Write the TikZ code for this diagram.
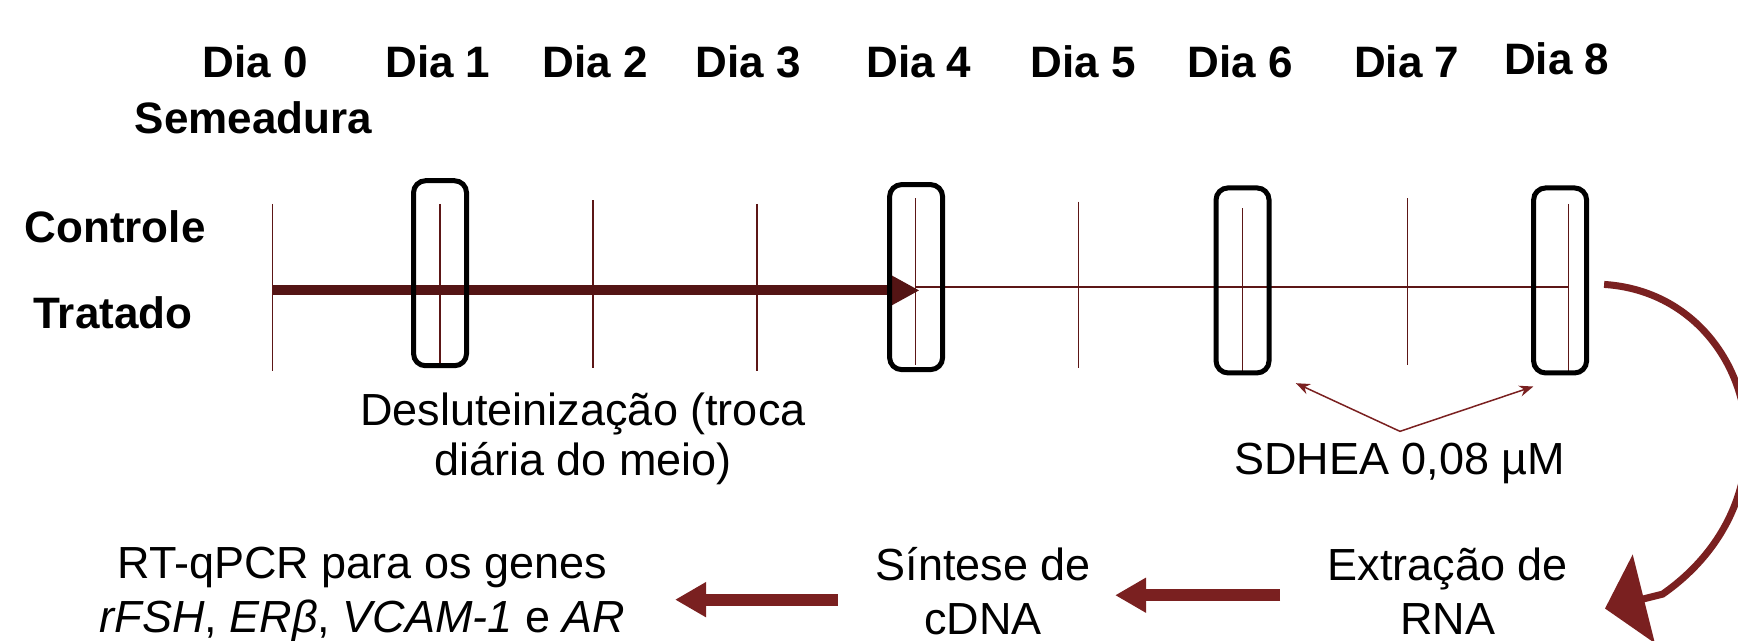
\documentclass[tikz,border=0pt]{standalone}
\usepackage{fontspec}
\setmainfont{Liberation Sans}
\usetikzlibrary{arrows.meta}
\definecolor{tlred}{RGB}{84,20,20}
\definecolor{ticked}{RGB}{92,22,22}
\definecolor{flowred}{RGB}{122,32,32}
\begin{document}
\begin{tikzpicture}[x=1.1084pt,y=-1.1084pt,
  daylabel/.style={font=\fontsize{44}{50}\selectfont\bfseries, inner sep=0pt, anchor=base},
  grouplabel/.style={font=\fontsize{44}{50}\selectfont\bfseries, inner sep=0pt, anchor=base west},
  note/.style={font=\fontsize{45}{54}\selectfont, inner sep=0pt, align=center, anchor=base},
  daytick/.style={draw=ticked, line width=1.5pt},
  window/.style={draw=black, line width=5pt, rounded corners=12pt, minimum width=53pt, minimum height=185pt, inner sep=0pt},
  treatline/.style={draw=tlred, line width=10pt, -{Triangle[length=30pt,width=30pt]}},
  ctrlline/.style={draw=ticked, line width=2pt},
  doseline/.style={draw=flowred, line width=1.5pt, {Stealth[length=14pt,width=11pt]}-{Stealth[length=14pt,width=11pt]}},
  steparrow/.style={draw=flowred, line width=12pt, -{Triangle[length=31pt,width=33pt]}},
  bendarrow/.style={draw=flowred, line width=7pt, -{Triangle[length=40pt,width=90pt]}},
]
\useasboundingbox (0,0) rectangle (1568,578);

% day headers
\node[daylabel] (d0) at (230,69.5) {Dia 0};
\node[daylabel] (sem) at (228.5,120) {Semeadura};
\node[daylabel] (d1) at (395,69.5) {Dia 1};
\node[daylabel] (d2) at (537,69.5) {Dia 2};
\node[daylabel] (d3) at (675,69.5) {Dia 3};
\node[daylabel] (d4) at (829,69.5) {Dia 4};
\node[daylabel] (d5) at (977,69.5) {Dia 5};
\node[daylabel] (d6) at (1119,69.5) {Dia 6};
\node[daylabel] (d7) at (1269,69.5) {Dia 7};
\node[daylabel] (d8) at (1404.5,67.5) {Dia 8};

% group labels
\node[grouplabel] (ctrl) at (22,219) {Controle};
\node[grouplabel] (trat) at (30,296) {Tratado};

% timeline points
\foreach \i/\x in {0/246,1/397,2/535,3/683,4/826,5/973,6/1121,7/1270,8/1415}
  \coordinate (t\i) at (\x,262);

% day ticks
\draw[daytick] (246,184) -- (246,334.5);
\draw[daytick] (397,184) -- (397,332);
\draw[daytick] (535,180.5) -- (535,332);
\draw[daytick] (683,184) -- (683,334.5);
\draw[daytick] (826,179) -- (826,329);
\draw[daytick] (973,182) -- (973,332);
\draw[daytick] (1121,188) -- (1121,337);
\draw[daytick] (1270,179) -- (1270,329);
\draw[daytick] (1415,184) -- (1415,335.5);

% treatment periods
\draw[ctrlline] ([yshift=3pt]t4) -- ([yshift=3pt]t8);
\draw[treatline] (t0) -- ([xshift=4pt]t4);

% sampling windows
\node[window] (b1) at (397,246.5) {};
\node[window] (b4) at (826.5,250) {};
\node[window] (b6) at (1121,253) {};
\node[window] (b8) at (1407.5,253) {};

% notes under the timeline (base anchor = last line)
\node[note, font=\fontsize{45}{50}\selectfont] (desl) at (526,429) {Desluteinização (troca\\diária do meio)};
\node[note] (dose) at (1263,428.5) {SDHEA 0,08 µM};
\draw[doseline] ([shift={(22,7)}]b6.south east) -- ([yshift=12pt]dose.north) -- ([shift={(2,10)}]b8.south west);

% processing steps
\node[note] (extr) at (1306,572.5) {Extração de\\RNA};
\node[note] (sint) at (887,572.5) {Síntese de\\cDNA};
\node[note] (rtq) at (327,571) {RT-qPCR para os genes\\{\itshape rFSH}, {\itshape ERβ}, {\itshape VCAM-1} e {\itshape AR}};

\draw[bendarrow] ([xshift=15pt,yshift=-4pt]b8.east)
  .. controls (1580,265) and (1630,445) .. (1500,536) -- (1448,549);
\draw[steparrow] (1155,537) -- (1006,537);
\draw[steparrow] (756,541) -- (609,541);
\end{tikzpicture}
\end{document}
